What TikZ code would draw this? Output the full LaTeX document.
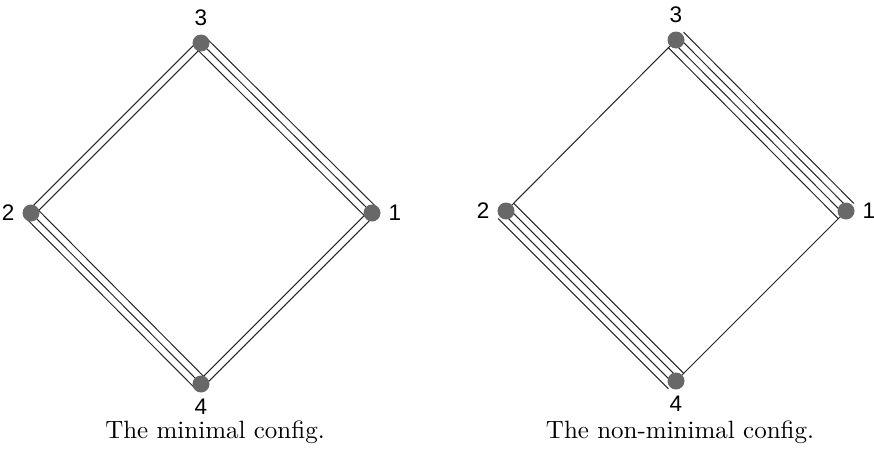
\documentclass[tikz,border=0pt]{standalone}
\usepackage{fontspec}
\newfontfamily\numfont{Liberation Sans}
\usetikzlibrary{calc,positioning}
\definecolor{vertGray}{HTML}{686868}

% k parallel strands between two vertices
\newcommand{\multiedge}[3]{%
  \foreach \i in {1,...,#3}{%
    \pgfmathsetmacro{\off}{(\i-(#3+1)/2)*2.9}%
    \draw[strand] ($(#1)!\off pt!90:(#2)$) -- ($(#2)!\off pt!-90:(#1)$);
  }}

\begin{document}
\begin{tikzpicture}[x=0.4pt,y=-0.4pt,line cap=round,line join=round]
\useasboundingbox (0,0) rectangle (874,453);
\tikzset{strand/.style={draw=black!85,line width=0.4pt},
  vert/.style={circle,fill=vertGray,inner sep=0pt,minimum size=6.8pt},
  numlab/.style={font=\numfont\fontsize{9}{11}\selectfont,inner sep=0pt},
  caption/.style={font=\normalsize}}
% left: minimal
\coordinate (a3) at (201,43); \coordinate (a2) at (31,213);
\coordinate (a1) at (372,213); \coordinate (a4) at (201,384);
\multiedge{a3}{a2}{2} \multiedge{a3}{a1}{3}
\multiedge{a2}{a4}{3} \multiedge{a4}{a1}{2}
\node[vert,label={[numlab,label distance=3.2pt]above:3}] (v3) at (a3) {};
\node[vert,label={[numlab,label distance=2.8pt]left:2}] (v2) at (a2) {};
\node[vert,label={[numlab,label distance=2.8pt]right:1}] (v1) at (a1) {};
\node[vert,label={[numlab,label distance=2.4pt]below:4}] (v4) at (a4) {};
\node[caption] (capa) at (215,432) {The minimal config.};
% right: non-minimal
\coordinate (b3) at (676,40); \coordinate (b2) at (506,211);
\coordinate (b1) at (846,211); \coordinate (b4) at (676,381);
\multiedge{b3}{b2}{1} \multiedge{b3}{b1}{4}
\multiedge{b2}{b4}{4} \multiedge{b4}{b1}{1}
\node[vert,label={[numlab,label distance=3.2pt]above:3}] (w3) at (b3) {};
\node[vert,label={[numlab,label distance=2.8pt]left:2}] (w2) at (b2) {};
\node[vert,label={[numlab,label distance=2.8pt]right:1}] (w1) at (b1) {};
\node[vert,label={[numlab,label distance=2.4pt]below:4}] (w4) at (b4) {};
\node[caption] (capb) at (680,432) {The non-minimal config.};
\end{tikzpicture}
\end{document}
